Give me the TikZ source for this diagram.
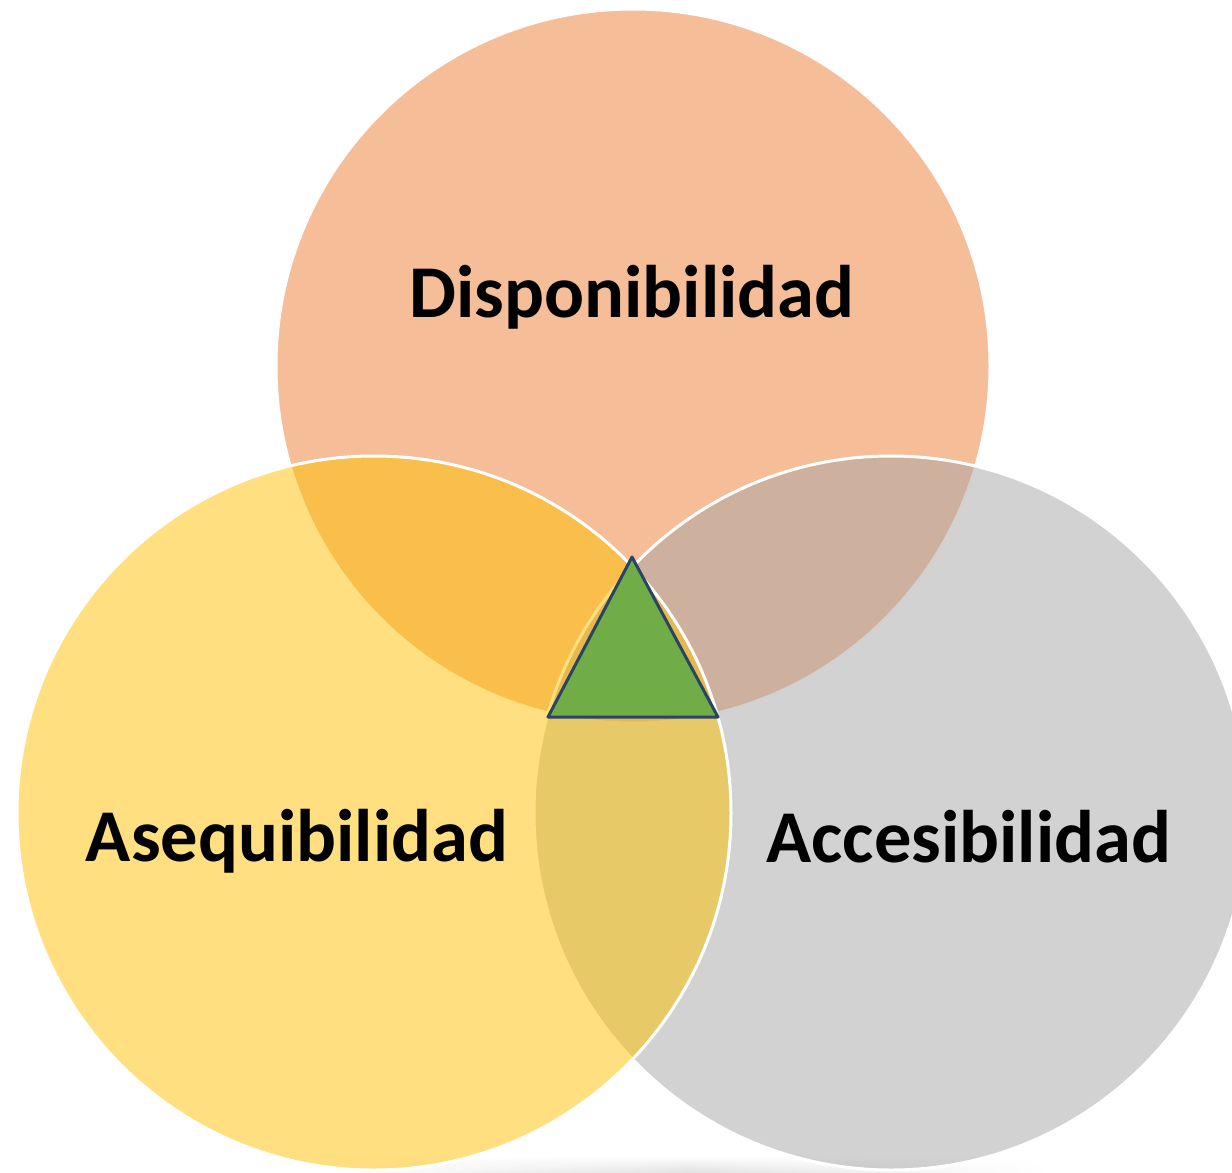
\documentclass[tikz,border=0pt]{standalone}
\usepackage{fontspec}
\usetikzlibrary{fadings}
\setmainfont{Carlito}
\definecolor{cOrange}{HTML}{ED7D31}
\definecolor{cGold}{HTML}{FFC000}
\definecolor{cGray}{HTML}{A5A5A5}
\definecolor{cGreen}{HTML}{70AD47}
\definecolor{cNavy}{HTML}{2A4466}
\tikzfading[name=sidefade, left color=transparent!100, right color=transparent!100, middle color=transparent!0]
\tikzset{
  venn/.style={draw=white, line width=3pt, fill opacity=0.5},
  lbl/.style={anchor=base, font=\bfseries\fontsize{74.5}{80}\selectfont, text=black, inner sep=0pt},
  tri/.style={draw=cNavy, fill=cGreen, line width=3pt, line join=round}
}
\begin{document}
\begin{tikzpicture}[x=1pt,y=-1pt]
\useasboundingbox (0,0) rectangle (1232,1173);
\clip (0,0) rectangle (1232,1173);
\shade[top color=white, bottom color=black!12, path fading=sidefade] (330,1156) rectangle (1050,1173);
\path[venn, fill=cOrange] (633,366) circle[radius=357];
\path[venn, fill=cGray] (891,813) circle[radius=357];
\path[venn, fill=cGold] (374,813) circle[radius=357];
\coordinate (t1) at (632,557);
\coordinate (t2) at (548,717);
\coordinate (t3) at (718,717);
\draw[tri] (t1) -- (t2) -- (t3) -- cycle;
\node[lbl] (disp) at (632,317) {Disponibilidad};
\node[lbl] (aseq) at (297,861) {Asequibilidad};
\node[lbl] (acce) at (969,862) {Accesibilidad};
\end{tikzpicture}
\end{document}
